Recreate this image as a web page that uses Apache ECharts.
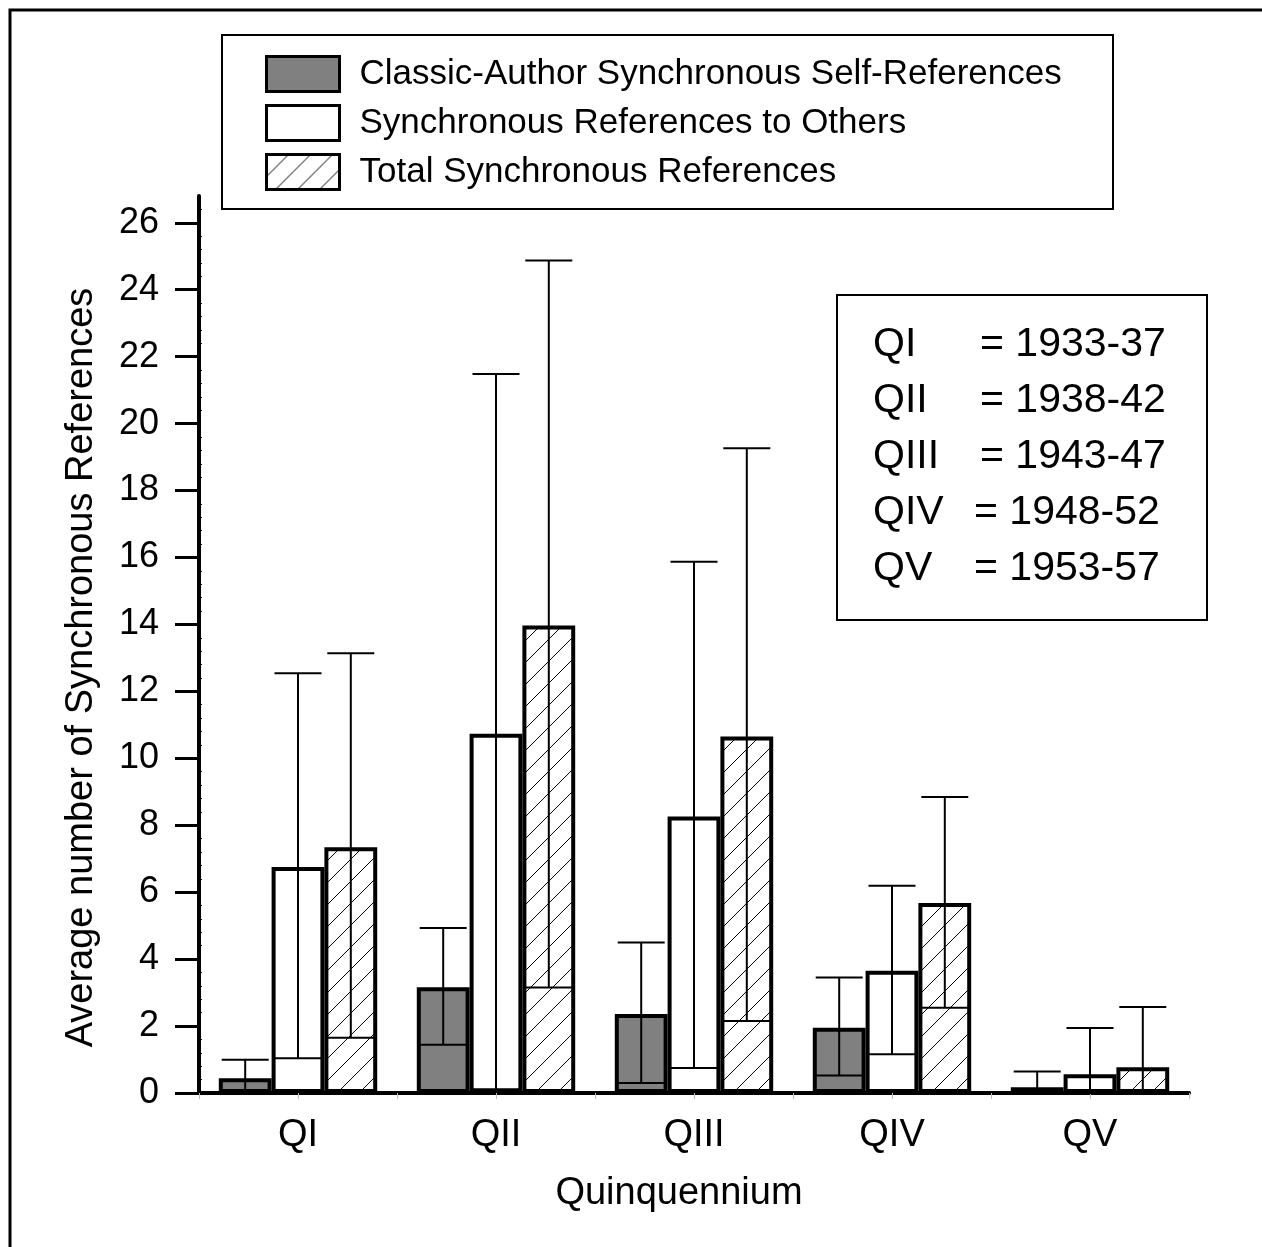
<!DOCTYPE html>
<html>
<head>
<meta charset="UTF-8">
<script type="text/javascript" src="https://cdn.jsdelivr.net/npm/echarts@6/dist/echarts.min.js"></script>
<title>Synchronous References</title>
<style>
	html, body { margin: 0; padding: 0; background: #fff; }
	#main { width: 1262px; height: 1247px; }
</style>
</head>
<body>
<div id="main"></div>
<script type="text/javascript">
	var categories = ['QI', 'QII', 'QIII', 'QIV', 'QV'];
	var seriesNames = ['Classic-Author Synchronous Self-References', 'Synchronous References to Others', 'Total Synchronous References'];

	// means, upper and lower ends of the error bars
	var selfMean = [0.44, 3.16, 2.36, 1.95, 0.17];
	var selfUpper = [0.99, 4.93, 4.50, 3.45, 0.64];
	var selfLower = [0, 1.44, 0.30, 0.52, 0];

	var otherMean = [6.75, 10.73, 8.26, 3.65, 0.56];
	var otherUpper = [12.54, 21.48, 15.87, 6.19, 1.94];
	var otherLower = [1.04, 0.11, 0.75, 1.16, 0];

	var totalMean = [7.34, 13.97, 10.65, 5.68, 0.77];
	var totalUpper = [13.14, 24.87, 19.26, 8.84, 2.57];
	var totalLower = [1.65, 3.15, 2.15, 2.55, 0];

	var yTicks = [0, 2, 4, 6, 8, 10, 12, 14, 16, 18, 20, 22, 24, 26];

	var periodNames = ['QI', 'QII', 'QIII', 'QIV', 'QV'];
	var periodYears = ['= 1933-37', '= 1938-42', '= 1943-47', '= 1948-52', '= 1953-57'];

	var FONT = '"Liberation Sans", Arial, sans-serif';

	// diagonal hatch tile
	var hatch = document.createElement('canvas');
	hatch.width = 22;
	hatch.height = 22;
	var ctx = hatch.getContext('2d');
	ctx.fillStyle = '#fff';
	ctx.fillRect(0, 0, 22, 22);
	ctx.strokeStyle = '#000';
	ctx.lineWidth = 1;
	ctx.beginPath();
	ctx.moveTo(0, 22); ctx.lineTo(22, 0);
	ctx.moveTo(-11, 11); ctx.lineTo(11, -11);
	ctx.moveTo(11, 33); ctx.lineTo(33, 11);
	ctx.stroke();

	var fills = ['#808080', '#ffffff', { image: hatch, repeat: 'repeat' }];

	function barSeries(idx, values) {
		return {
			name: seriesNames[idx],
			type: 'bar',
			data: values,
			barGap: '0%',
			barCategoryGap: '20%',
			itemStyle: { color: fills[idx], borderColor: '#000', borderWidth: 4 },
			z: 2
		};
	}

	function errorSeries(idx, upper, lower) {
		var data = [];
		for (var i = 0; i < categories.length; i++) {
			data.push([i, upper[i], lower[i]]);
		}
		return {
			type: 'custom',
			data: data,
			encode: { x: 0, y: [1, 2] },
			z: 3,
			renderItem: function (params, api) {
				var band = api.size([1, 0])[0];
				var barW = band * 0.8 / 3;
				var cx = api.coord([api.value(0), 0])[0] + (idx - 1) * barW;
				var yTop = api.coord([api.value(0), api.value(1)])[1];
				var yBot = api.coord([api.value(0), api.value(2)])[1];
				var half = 23.5;
				var st = { stroke: '#000', lineWidth: 2 };
				return {
					type: 'group',
					children: [
						{ type: 'line', shape: { x1: cx, y1: yTop, x2: cx, y2: yBot }, style: st },
						{ type: 'line', shape: { x1: cx - half, y1: yTop, x2: cx + half, y2: yTop }, style: st },
						{ type: 'line', shape: { x1: cx - half, y1: yBot, x2: cx + half, y2: yBot }, style: st }
					]
				};
			}
		};
	}

	var graphics = [
		{ type: 'rect', shape: { x: 10, y: 10, width: 1400, height: 1400 }, style: { fill: 'none', stroke: '#000', lineWidth: 3 }, silent: true },
		{ type: 'rect', shape: { x: 222, y: 35, width: 891, height: 174 }, style: { fill: '#fff', stroke: '#000', lineWidth: 2 }, z: -1 },
		{ type: 'rect', shape: { x: 837, y: 295, width: 370, height: 325 }, style: { fill: '#fff', stroke: '#000', lineWidth: 2 } }
	];
	var eqX = [980, 980, 980, 974, 974];
	for (var k = 0; k < periodNames.length; k++) {
		graphics.push({ type: 'text', x: 873, y: 345 + k * 56,
			style: { text: periodNames[k], font: '41px ' + FONT, fill: '#000', verticalAlign: 'middle' } });
		graphics.push({ type: 'text', x: eqX[k], y: 345 + k * 56,
			style: { text: periodYears[k], font: '41px ' + FONT, fill: '#000', verticalAlign: 'middle' } });
	}

	var option = {
		animation: false,
		backgroundColor: '#fff',
		textStyle: { fontFamily: FONT, color: '#000' },
		grid: { left: 199, right: 73, top: 196, bottom: 154, containLabel: false },
		legend: {
			data: seriesNames,
			orient: 'vertical',
			left: 265,
			top: 55,
			padding: 0,
			itemWidth: 73,
			itemHeight: 35,
			itemGap: 11,
			icon: 'rect',
			itemStyle: { borderWidth: 3, borderColor: '#000' },
			textStyle: { fontSize: 35, fontFamily: FONT, color: '#000', padding: [0, 0, 0, 15] }
		},
		xAxis: [{
			type: 'category',
			data: categories,
			axisLine: { lineStyle: { color: '#000', width: 4 } },
			axisTick: { show: true, interval: 0, length: 6, lineStyle: { color: '#bbb', width: 1 } },
			axisLabel: { fontSize: 38, color: '#000', margin: 24, fontFamily: FONT },
			name: 'Quinquennium',
			nameLocation: 'middle',
			nameGap: 82,
			nameTextStyle: { fontSize: 38, color: '#000', fontFamily: FONT, padding: [0, 30, 0, 0] }
		}, {
			type: 'category',
			data: categories,
			position: 'bottom',
			axisLine: { show: false },
			axisLabel: { show: false },
			axisTick: { show: true, alignWithLabel: true, interval: 0, length: 6, lineStyle: { color: '#bbb', width: 1 } }
		}],
		yAxis: [{
			type: 'value',
			min: 0,
			max: 26.8,
			interval: 2,
			axisLine: { show: true, lineStyle: { color: '#000', width: 4 } },
			axisTick: { show: true, length: 24, lineStyle: { color: '#000', width: 3 }, customValues: yTicks },
			axisLabel: { fontSize: 36, color: '#000', margin: 40, fontFamily: FONT, customValues: yTicks },
			splitLine: { show: false },
			name: 'Average number of Synchronous References',
			nameLocation: 'middle',
			nameGap: 98,
			nameTextStyle: { fontSize: 38, color: '#000', fontFamily: FONT, padding: [0, 46, 0, 0] }
		}, {
			type: 'value',
			min: 0,
			max: 26.8,
			interval: 2,
			position: 'left',
			axisLine: { show: false },
			axisLabel: { show: false },
			splitLine: { show: false },
			axisTick: { show: false, inside: true },
			minorTick: { show: true, splitNumber: 5, length: 3, lineStyle: { color: '#000', width: 1 } }
		}],
		graphic: graphics,
		series: [
			barSeries(0, selfMean),
			barSeries(1, otherMean),
			barSeries(2, totalMean),
			errorSeries(0, selfUpper, selfLower),
			errorSeries(1, otherUpper, otherLower),
			errorSeries(2, totalUpper, totalLower)
		]
	};

	var myChart = echarts.init(document.getElementById('main'));
	myChart.setOption(option);
</script>
</body>
</html>
